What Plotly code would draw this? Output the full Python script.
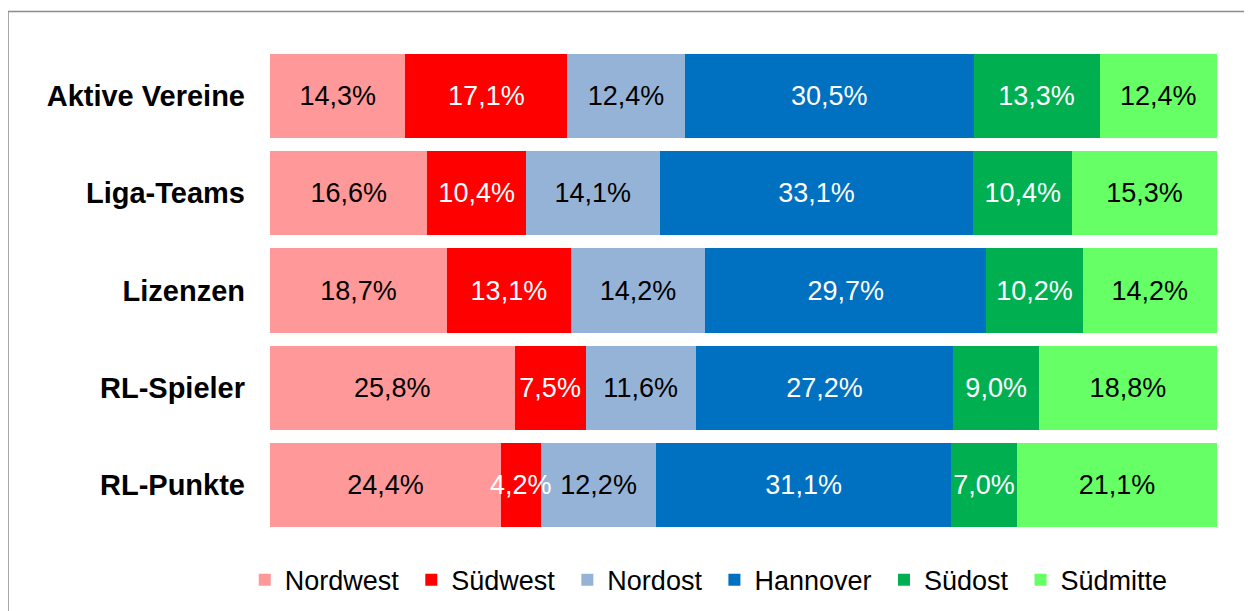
import plotly.graph_objects as go

categories = ["Aktive Vereine", "Liga-Teams", "Lizenzen", "RL-Spieler", "RL-Punkte"]
series_names = ["Nordwest", "Südwest", "Nordost", "Hannover", "Südost", "Südmitte"]
nordwest = [14.3, 16.6, 18.7, 25.8, 24.4]
suedwest = [17.1, 10.4, 13.1, 7.5, 4.2]
nordost = [12.4, 14.1, 14.2, 11.6, 12.2]
hannover = [30.5, 33.1, 29.7, 27.2, 31.1]
suedost = [13.3, 10.4, 10.2, 9.0, 7.0]
suedmitte = [12.4, 15.3, 14.2, 18.8, 21.1]

values = [nordwest, suedwest, nordost, hannover, suedost, suedmitte]
colors = ["#FF9999", "#FF0000", "#95B3D7", "#0070C0", "#00B050", "#66FF66"]
text_colors = ["black", "white", "black", "white", "white", "black"]

FONT = "Liberation Sans, Arial, sans-serif"
SMALL = 5.0  # segments narrower than this get their label drawn on top as annotation


def fmt(v):
    return f"{v:.1f}%".replace(".", ",")


fig = go.Figure()
annotations = []
for si, (name, vals, col, tcol) in enumerate(zip(series_names, values, colors, text_colors)):
    labels = []
    for ci, v in enumerate(vals):
        if v < SMALL:
            labels.append("")
            total = sum(s[ci] for s in values)
            start = sum(values[k][ci] for k in range(si))
            annotations.append(dict(
                x=(start + v / 2) / total * 100, y=categories[ci], xref="x", yref="y",
                text=fmt(v), showarrow=False,
                font=dict(color=tcol, size=27, family=FONT)))
        else:
            labels.append(fmt(v))
    fig.add_trace(go.Bar(
        y=categories, x=vals, name=name + " ", orientation="h",
        marker=dict(color=col, line=dict(width=0)),
        text=labels,
        texttemplate="%{text}", textposition="inside", insidetextanchor="middle",
        constraintext="none", textangle=0,
        textfont=dict(color=tcol, size=27, family=FONT),
        hoverinfo="skip",
    ))

fig.update_layout(
    barmode="stack", barnorm="percent", bargap=0.136,
    width=1252, height=611,
    margin=dict(l=262, r=43, t=39, b=85),
    paper_bgcolor="white", plot_bgcolor="white",
    font=dict(family=FONT, size=27, color="black"),
    uniformtext=dict(minsize=27, mode="show"),
    showlegend=True,
    legend=dict(orientation="h", x=0.467, xanchor="center", y=-0.095, yanchor="middle",
                font=dict(size=27, family=FONT), traceorder="normal",
                itemwidth=30, tracegroupgap=0),
    xaxis=dict(range=[0, 100], visible=False, fixedrange=True),
    yaxis=dict(autorange="reversed", showline=False, showgrid=False, ticks="",
               tickfont=dict(size=29, family=FONT, color="black", weight="bold"),
               ticklabelstandoff=24),
    annotations=annotations,
    shapes=[dict(type="rect", xref="paper", yref="paper",
                 x0=(8 - 270) / 947, x1=1.2, y0=-0.4, y1=(533.6 - 12) / 486.2,
                 line=dict(color="#8C8C8C", width=1.5), fillcolor="rgba(0,0,0,0)", layer="below")],
)

fig.write_html("out.html")
